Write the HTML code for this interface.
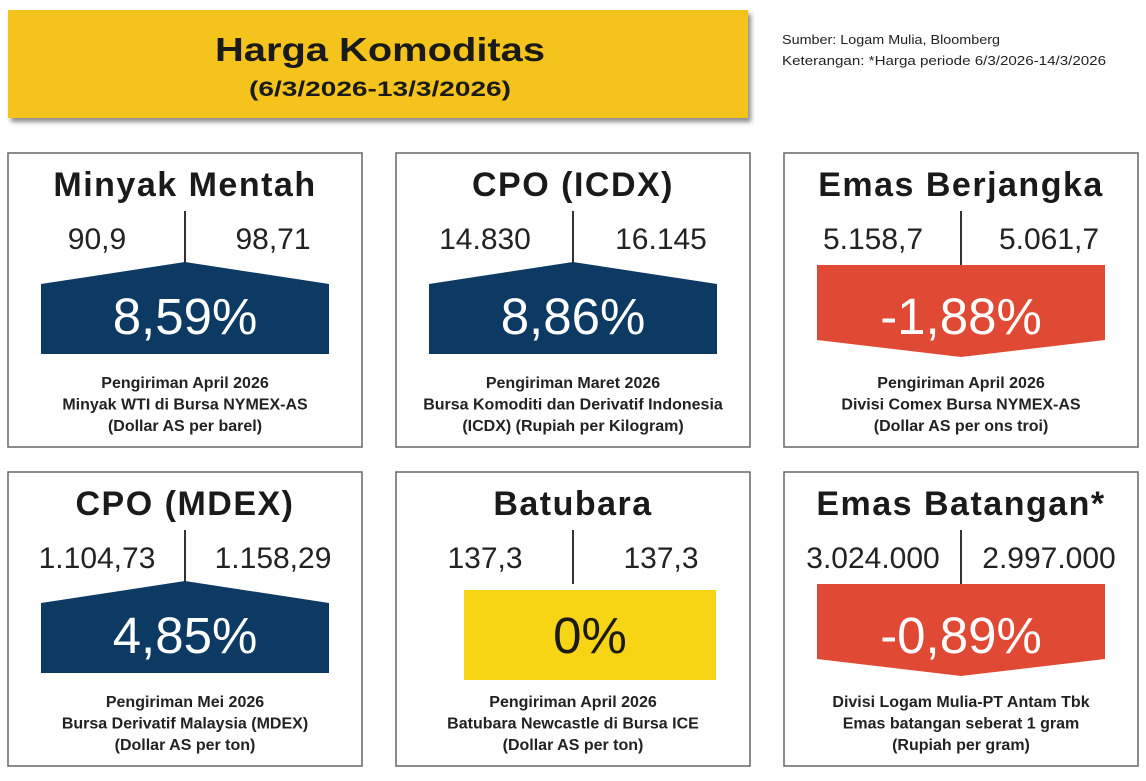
<!DOCTYPE html>
<html><head><meta charset="utf-8"><style>
body{margin:0;background:#fff;width:1146px;height:776px;overflow:hidden;font-family:"Liberation Sans",sans-serif}
</style></head><body>
<svg id="root" width="1146" height="776">
  <defs><filter id="sh" x="-5%" y="-10%" width="115%" height="130%"><feDropShadow dx="3" dy="4" stdDeviation="2.5" flood-color="#000" flood-opacity="0.45"/></filter></defs>
  <rect x="8" y="10" width="740" height="108" fill="#f5c41c" filter="url(#sh)"/>
  <text x="380" y="61" text-anchor="middle" font-size="33" font-weight="bold" fill="#1a1a1a" textLength="330" lengthAdjust="spacingAndGlyphs">Harga Komoditas</text>
  <text x="380" y="96" text-anchor="middle" font-size="21" font-weight="bold" fill="#1a1a1a" textLength="262" lengthAdjust="spacingAndGlyphs">(6/3/2026-13/3/2026)</text>
  <text x="782" y="44" font-size="13" fill="#222" textLength="218" lengthAdjust="spacingAndGlyphs">Sumber: Logam Mulia, Bloomberg</text>
  <text x="782" y="65" font-size="13" fill="#222" textLength="324" lengthAdjust="spacingAndGlyphs">Keterangan: *Harga periode 6/3/2026-14/3/2026</text>
  <g id="cards"></g>
</svg>
<script>
const titles=["Minyak Mentah","CPO (ICDX)","Emas Berjangka","CPO (MDEX)","Batubara","Emas Batangan*"];
const oldVals=["90,9","14.830","5.158,7","1.104,73","137,3","3.024.000"];
const newVals=["98,71","16.145","5.061,7","1.158,29","137,3","2.997.000"];
const changes=["8,59%","8,86%","-1,88%","4,85%","0%","-0,89%"];
const directions=["up","up","down","up","flat","down"];
const captions=[
 ["Pengiriman April 2026","Minyak WTI di Bursa NYMEX-AS","(Dollar AS per barel)"],
 ["Pengiriman Maret 2026","Bursa Komoditi dan Derivatif Indonesia","(ICDX) (Rupiah per Kilogram)"],
 ["Pengiriman April 2026","Divisi Comex Bursa NYMEX-AS","(Dollar AS per ons troi)"],
 ["Pengiriman Mei 2026","Bursa Derivatif Malaysia (MDEX)","(Dollar AS per ton)"],
 ["Pengiriman April 2026","Batubara Newcastle di Bursa ICE","(Dollar AS per ton)"],
 ["Divisi Logam Mulia-PT Antam Tbk","Emas batangan seberat 1 gram","(Rupiah per gram)"]];
const NS="http://www.w3.org/2000/svg";
const g=document.getElementById('cards');
function mk(tag,at,parent,txt){const e=document.createElementNS(NS,tag);for(const k in at)e.setAttribute(k,at[k]);if(txt!==undefined)e.textContent=txt;parent.appendChild(e);return e;}
const colors={up:"#0d3a63",down:"#e04a35",flat:"#f7d414"};
titles.forEach((t,i)=>{
  const col=i%3,row=Math.floor(i/3);
  const x=8+col*388,y=153+row*319,w=354,h=294,cx=x+w/2;
  const cg=mk('g',{},g);
  
  
  const r=mk('rect',{x:x,y:y,width:w,height:h,fill:'#fff',stroke:'#666','stroke-width':1.5},cg);
  
  
  const tt=mk('text',{x:cx,y:y+43,'text-anchor':'middle','font-size':34,'font-weight':'bold',fill:'#1a1a1a','letter-spacing':1.5},cg,t);
  
  
  const ln=mk('line',{x1:cx,x2:cx,y1:y+58,y2:y+(directions[i]==='up'?110:112),stroke:'#333','stroke-width':2},cg);
  
  
  const o=mk('text',{x:cx-88,y:y+96,'text-anchor':'middle','font-size':30,fill:'#222'},cg,oldVals[i]);
  
  
  const n=mk('text',{x:cx+88,y:y+96,'text-anchor':'middle','font-size':30,fill:'#222'},cg,newVals[i]);
  
  
  const L=x+33,R=x+w-33,d=directions[i];let pts;
  if(d==='up')pts=`${L},${y+131} ${cx},${y+109} ${R},${y+131} ${R},${y+201} ${L},${y+201}`;
  else if(d==='down')pts=`${L},${y+112} ${R},${y+112} ${R},${y+187} ${cx},${y+204} ${L},${y+187}`;
  else pts=`${x+68},${y+118} ${x+w-34},${y+118} ${x+w-34},${y+208} ${x+68},${y+208}`;
  const p=mk('polygon',{points:pts,fill:colors[d]},cg);
  
  
  const pc=mk('text',{x:d==='flat'?x+(68+w-34)/2:cx,y:y+181,'text-anchor':'middle','font-size':51,fill:d==='flat'?'#1a1a1a':'#fff'},cg,changes[i]);
  
  
  captions[i].forEach((c,j)=>{
    const ct=mk('text',{x:cx,y:y+235+j*21.5,'text-anchor':'middle','font-size':16,'font-weight':'bold',fill:'#222'},cg,c);
    
    
  });
});
</script>
</body></html>
